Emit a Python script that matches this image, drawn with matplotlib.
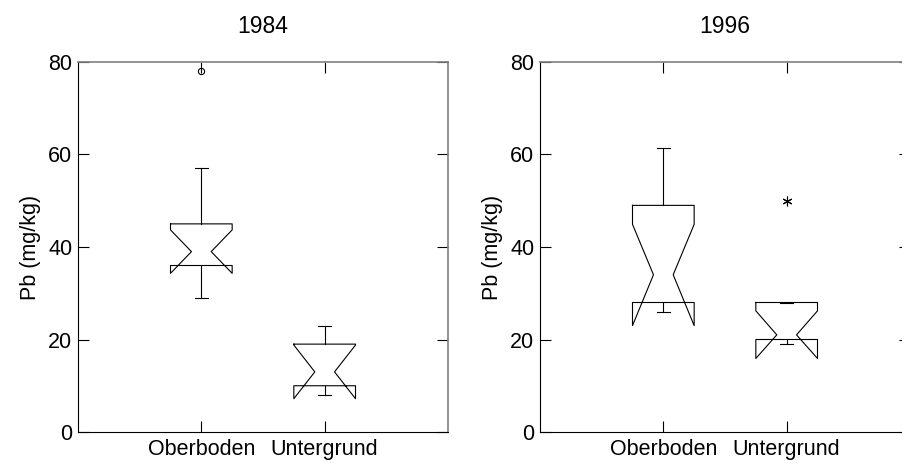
import numpy as np
import matplotlib.pyplot as plt

plt.rcParams['font.family'] = ['Liberation Sans', 'DejaVu Sans']

groups = ['Oberboden', 'Untergrund']
years = ['1984', '1996']

# Pb summary statistics per year (mg/kg)
q1_1984 = [36, 10]
med_1984 = [39, 13]
q3_1984 = [45, 19]
whislo_1984 = [29, 8]
whishi_1984 = [57, 23]
cilo_1984 = [34.3, 7.2]
cihi_1984 = [43.7, 18.8]
fliers_1984 = [[78], []]

q1_1996 = [28, 20]
med_1996 = [34, 21]
q3_1996 = [49, 28]
whislo_1996 = [26, 19]
whishi_1996 = [61.5, 28]
cilo_1996 = [23, 15.9]
cihi_1996 = [44.9, 26.2]
fliers_1996 = [[], [50]]

stats = {
    '1984': (q1_1984, med_1984, q3_1984, whislo_1984, whishi_1984, cilo_1984, cihi_1984, fliers_1984, 'o'),
    '1996': (q1_1996, med_1996, q3_1996, whislo_1996, whishi_1996, cilo_1996, cihi_1996, fliers_1996, '*'),
}

FS = 15.5
LW = 0.8
half = 0.25      # half box width
notch = 0.08     # half width at the median
cap = 0.055      # half whisker cap width


def notched_box(ax, x, q1, med, q3, lo, hi, cilo, cihi):
    bx = [x - half, x + half, x + half, x + notch, x + half, x + half,
          x - half, x - half, x - notch, x - half, x - half]
    by = [q3, q3, cihi, med, cilo, q1, q1, cilo, med, cihi, q3]
    ax.plot(bx, by, color='k', lw=LW)
    # whiskers
    ax.plot([x, x], [q3, hi], color='k', lw=LW)
    ax.plot([x, x], [q1, lo], color='k', lw=LW)
    ax.plot([x - cap, x + cap], [hi, hi], color='k', lw=LW)
    ax.plot([x - cap, x + cap], [lo, lo], color='k', lw=LW)


fig = plt.figure(figsize=(9.03, 4.63), dpi=100)
axes = [fig.add_axes([78 / 903, 31 / 463, 370 / 903, 370 / 463]),
        fig.add_axes([540 / 903, 31 / 463, 370 / 903, 370 / 463])]

for ax, year in zip(axes, years):
    q1, med, q3, lo, hi, cilo, cihi, fliers, mk = stats[year]
    pos = np.arange(1, len(groups) + 1)
    for i, x in enumerate(pos):
        notched_box(ax, x, q1[i], med[i], q3[i], lo[i], hi[i], cilo[i], cihi[i])
        if fliers[i]:
            if mk == 'o':
                ax.plot([x] * len(fliers[i]), fliers[i], 'o', mfc='none', mec='k',
                        ms=4.5, mew=LW)
            else:
                # six-armed asterisk
                ax.plot([x] * len(fliers[i]), fliers[i], marker=(6, 2, 0),
                        ls='none', color='k', ms=7, mew=LW)

    ax.set_xlim(0, 3)
    ax.set_ylim(0, 80)
    ax.set_xticks(pos)
    ax.set_xticklabels(groups, fontsize=FS)
    ax.set_yticks([0, 20, 40, 60, 80])
    ax.tick_params(axis='both', direction='in', length=8, width=LW,
                   top=True, right=True, labelsize=FS, pad=5)
    ax.tick_params(axis='y', pad=4)
    for side in ['left', 'bottom']:
        ax.spines[side].set_linewidth(LW)
    for side in ['top', 'right']:
        ax.spines[side].set_color('#808080')
        ax.spines[side].set_linewidth(1.2)
    ax.set_ylabel('Pb (mg/kg)', fontsize=FS, labelpad=5)
    ax.set_title(year, fontsize=16.5, pad=21)

fig.savefig('out.png', dpi=100)
